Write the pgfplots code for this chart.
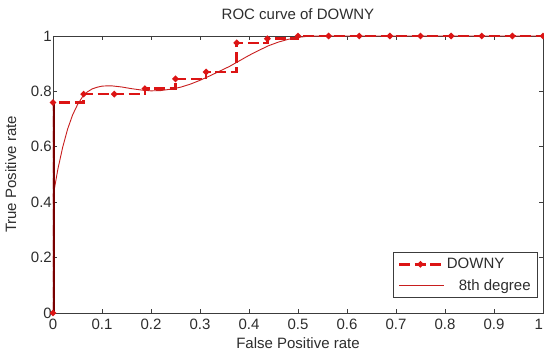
\documentclass[border=0pt]{standalone}
\usepackage{pgfplots}
\pgfplotsset{compat=1.18}
\usepackage{fontspec}
\setmainfont{Liberation Sans}
\definecolor{txt}{RGB}{45,45,45}
\definecolor{axl}{RGB}{60,60,60}
\definecolor{dred}{RGB}{120,0,0}
\definecolor{lred}{RGB}{220,20,20}
\definecolor{mred}{RGB}{200,30,30}
\pgfplotsset{
  legA/.style={legend image code/.code={
    \draw[##1, mark repeat=2, mark phase=2] plot coordinates {(0bp,0bp) (21bp,0bp) (43bp,0bp)};}},
  legB/.style={legend image code/.code={
    \draw[##1] (0bp,0bp) -- (45bp,0bp);}},
}
\begin{document}
\begin{tikzpicture}
\begin{axis}[
  name=ax,
  scale only axis,
  width=490bp, height=277bp,
  xmin=0, xmax=1, ymin=0, ymax=1,
  xtick={0,0.1,...,1}, ytick={0,0.2,...,1},
  xticklabels={0,0.1,0.2,0.3,0.4,0.5,0.6,0.7,0.8,0.9,\llap{1}},
  yticklabels={0,0.2,0.4,0.6,0.8,1},
  tick align=inside,
  major tick length=4bp,
  axis line style={axl, line width=0.8bp},
  every tick/.style={axl, line width=0.8bp},
  font=\fontsize{15bp}{18bp}\selectfont,
  tick label style={txt, font=\fontsize{15bp}{18bp}\selectfont},
  /pgf/number format/assume math mode=true,
  yticklabel style={inner sep=1bp},
  xticklabel style={yshift=-3bp},
  title={ROC curve of DOWNY},
  title style={txt, at={(axis description cs:0.5,1)}, anchor=base, yshift=11bp, inner sep=0pt},
  xlabel={False Positive rate},
  xlabel style={txt, at={(axis description cs:0.5,0)}, anchor=base, yshift=-35bp, inner sep=0pt},
  ylabel={True Positive rate},
  ylabel style={txt, at={(axis description cs:-0.0755,0.5)}, anchor=base, inner sep=0pt},
  legend style={at={(axis description cs:0.9898,0.054)}, anchor=south east,
    draw=axl, line width=0.8bp, fill=white, text=txt,
    font=\fontsize{15bp}{18bp}\selectfont, inner xsep=5bp, inner ysep=4bp, row sep=5bp,
    legend cell align=left},
]
\addplot[lred, line width=2.6bp, dash pattern=on 11bp off 4.5bp, const plot mark left,
  mark=*, mark size=1.6bp, mark options={solid, fill=lred, draw=lred}, legA] coordinates {
(0,0) (0,0.76) (0.0625,0.79) (0.125,0.79) (0.1875,0.81) (0.25,0.845)
(0.3125,0.87) (0.375,0.975) (0.4375,0.99) (0.5,1) (0.5625,1) (0.625,1)
(0.6875,1) (0.75,1) (0.8125,1) (0.875,1) (0.9375,1) (1,1)
};
\addlegendentry{DOWNY}
\addplot[mred, line width=0.9bp, legB] coordinates {
(0,0.42) (0.005,0.47) (0.01,0.52) (0.02,0.60) (0.03,0.665) (0.04,0.715)
(0.05,0.752) (0.06,0.78) (0.07,0.798) (0.08,0.809) (0.09,0.815) (0.10,0.819)
(0.11,0.82) (0.12,0.82) (0.14,0.816) (0.16,0.81) (0.18,0.805) (0.20,0.802)
(0.22,0.803) (0.24,0.808) (0.26,0.815) (0.28,0.826) (0.30,0.84) (0.32,0.856)
(0.34,0.873) (0.36,0.89) (0.38,0.91) (0.40,0.93) (0.42,0.948) (0.44,0.965)
(0.46,0.978) (0.48,0.988) (0.50,0.995) (0.52,0.999) (0.55,1.0) (0.6,1.0)
(0.7,1.0) (0.8,1.0) (0.9,1.0) (1,1.0)
};
\addlegendentry{\hspace{12bp}8th degree}
\addplot[dred, line width=3.5bp, forget plot] coordinates {(0,0) (0,0.76)};
\end{axis}
\pgfresetboundingbox
\useasboundingbox ([shift={(-53bp,-41bp)}]ax.south west) rectangle ([shift={(491bp,313bp)}]ax.south west);
\end{tikzpicture}
\end{document}
